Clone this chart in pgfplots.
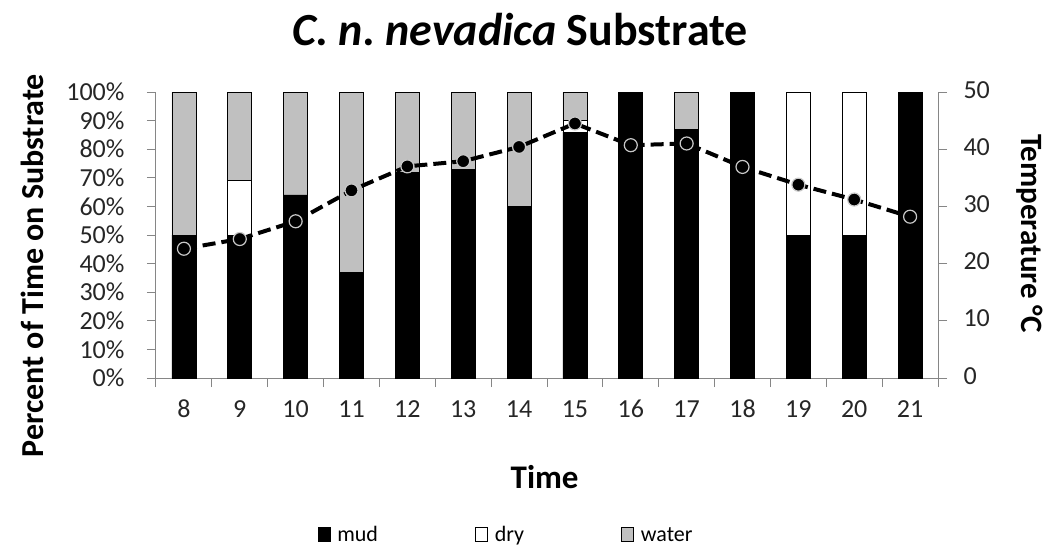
\documentclass[border=0pt]{standalone}
\usepackage{fontspec}
\setmainfont{Carlito}
\usepackage{pgfplots}
\pgfplotsset{compat=1.18}
\definecolor{water}{RGB}{192,192,192}
\definecolor{axgray}{RGB}{134,134,134}
\definecolor{ringgray}{RGB}{200,200,200}

\pgfplotsset{
  common/.style={
    at={(0,0)}, anchor=south west, scale only axis,
    width=782pt, height=286pt,
    xmin=7.5, xmax=21.5,
    tick align=outside,
    major tick length=9pt,
    axis line style={axgray, line width=1pt},
    tick style={axgray, line width=1pt},
    /pgf/number format/assume math mode=true,
    typeset ticklabels with strut,
    tick label style={font=\fontsize{26}{30}\selectfont, text=black!85},
  },
}

\begin{document}
\begin{tikzpicture}
\path[use as bounding box] (-156pt,-172pt) rectangle (898pt,378pt);

\begin{axis}[common,
  ybar stacked, bar width=24pt,
  ymin=0, ymax=100,
  axis y line*=left, axis x line*=bottom,
  xtick={7.5,8.5,...,21.5}, xticklabels={},
  extra x ticks={8,...,21},
  extra x tick style={major tick length=0pt,
    xticklabel style={anchor=north, yshift=-15pt}},
  ytick={0,10,...,100},
  yticklabel={\pgfmathprintnumber{\tick}\%},
  yticklabel style={xshift=-19pt, anchor=east},
  title={\frenchspacing\textit{C. n. nevadica} Substrate},
  every axis title/.style={at={(axis description cs:0.4655,1.22)}, anchor=center,
    font=\bfseries\fontsize{46}{50}\selectfont},
  xlabel={Time},
  every axis x label/.style={at={(axis description cs:0.497,-0.346)}, anchor=center,
    font=\bfseries\fontsize{33}{36}\selectfont},
  ylabel={Percent of Time on Substrate},
  every axis y label/.style={at={(axis description cs:-0.1586,0.393)}, anchor=center,
    rotate=90, font=\bfseries\fontsize{32}{36}\selectfont},
  legend columns=3,
  legend style={at={(axis description cs:0.4476,-0.549)}, anchor=center, draw=none,
    font=\fontsize{22}{26}\selectfont,
    /tikz/every odd column/.append style={column sep=5pt},
    /tikz/every even column/.append style={column sep=95pt}},
  legend image code/.code={\draw[#1, line width=0.8pt] (0pt,-6pt) rectangle (12pt,8pt);},
]
\addplot[fill=black, draw=black, line width=0.8pt] coordinates {
  (8,50) (9,50) (10,64) (11,37) (12,72) (13,73) (14,60)
  (15,86) (16,100) (17,87) (18,100) (19,50) (20,50) (21,100)};
\addplot[fill=white, draw=black, line width=0.8pt] coordinates {
  (8,0) (9,19) (10,0) (11,0) (12,0) (13,0) (14,0)
  (15,4) (16,0) (17,0) (18,0) (19,50) (20,50) (21,0)};
\addplot[fill=water, draw=black, line width=0.8pt] coordinates {
  (8,50) (9,31) (10,36) (11,63) (12,28) (13,27) (14,40)
  (15,10) (16,0) (17,13) (18,0) (19,0) (20,0) (21,0)};
\legend{mud,dry,water}
\end{axis}

\begin{axis}[common,
  ymin=0, ymax=50,
  axis y line*=right, axis x line=none,
  ytick={0,10,...,50},
  yticklabel style={xshift=13pt, anchor=west},
  ylabel={Temperature °C},
  every axis y label/.style={at={(axis description cs:1.1176,0.505)}, anchor=center,
    rotate=-90, font=\bfseries\fontsize{31}{34}\selectfont},
]
\addplot[black, line width=4pt, dash pattern=on 13pt off 6pt,
  mark=*, mark size=6.5pt,
  mark options={solid, fill=black, draw=ringgray, line width=1.2pt}] coordinates {
  (8,22.6) (9,24.3) (10,27.4) (11,32.8) (12,37.0) (13,37.9) (14,40.4)
  (15,44.5) (16,40.7) (17,41.0) (18,36.9) (19,33.8) (20,31.2) (21,28.2)};
\end{axis}
\end{tikzpicture}
\end{document}
